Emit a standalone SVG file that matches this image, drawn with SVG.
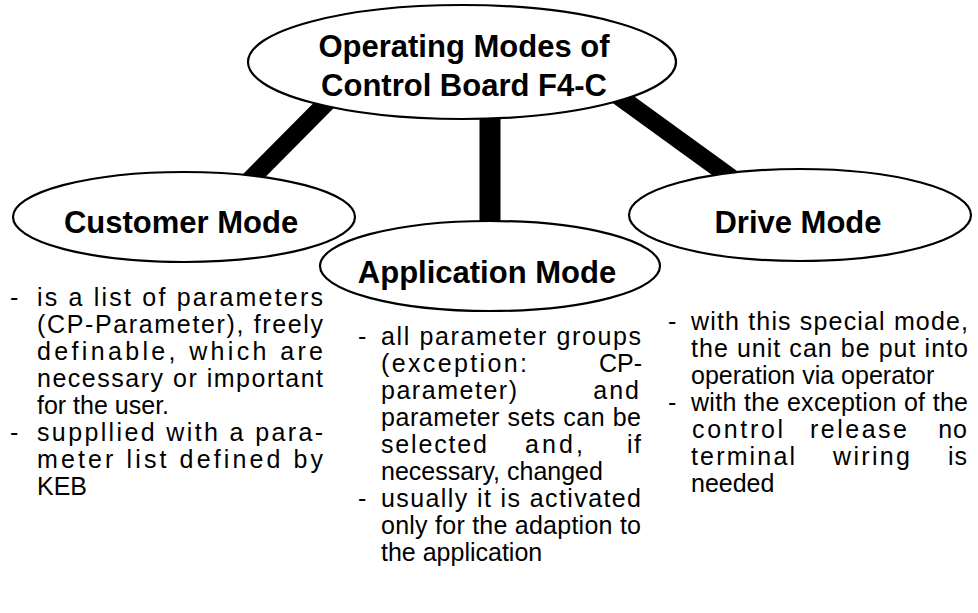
<svg xmlns="http://www.w3.org/2000/svg" width="978" height="613" viewBox="0 0 978 613">
<style>
.node{fill:#fff;stroke:#000;stroke-width:2.2}
.conn{stroke:#000;stroke-linecap:butt;fill:none}
.h{font-family:"Liberation Sans",Arial,sans-serif;font-weight:bold;font-size:31px;fill:#000;text-anchor:middle}
.b{font-family:"Liberation Sans",Arial,sans-serif;font-size:25px;fill:#000}
.e{text-anchor:end}
</style>
<rect width="978" height="613" fill="#fff"/>
<g id="connectors">
<line class="conn" x1="342" y1="87" x2="234" y2="196" stroke-width="18"/>
<line class="conn" x1="490" y1="100" x2="490" y2="240" stroke-width="21"/>
<line class="conn" x1="599" y1="82" x2="759" y2="198" stroke-width="18"/>
</g>
<g id="root">
<ellipse class="node" cx="462" cy="62" rx="214" ry="57"/>
<text class="h" x="464" y="57">Operating Modes of</text>
<text class="h" x="464" y="96">Control Board F4-C</text>
</g>
<g id="customer">
<ellipse class="node" cx="184" cy="217" rx="171" ry="45"/>
<text class="h" x="181" y="233">Customer Mode</text>
</g>
<g id="drive">
<ellipse class="node" cx="800" cy="215" rx="171" ry="46"/>
<text class="h" x="798" y="233">Drive Mode</text>
</g>
<g id="application">
<ellipse class="node" cx="490" cy="266" rx="170" ry="45"/>
<text class="h" x="487" y="283">Application Mode</text>
</g>
<g id="customer-text" class="b">
<text x="10" y="306">-</text>
<text x="37" y="306" textLength="286" lengthAdjust="spacing">is a list of parameters</text>
<text x="37" y="333" textLength="286" lengthAdjust="spacing">(CP-Parameter), freely</text>
<text x="37" y="360" textLength="286" lengthAdjust="spacing">definable, which are</text>
<text x="37" y="387" textLength="286" lengthAdjust="spacing">necessary or important</text>
<text x="37" y="414">for the user.</text>
<text x="10" y="441">-</text>
<text x="37" y="441" textLength="286" lengthAdjust="spacing">suppllied with a para-</text>
<text x="37" y="468" textLength="286" lengthAdjust="spacing">meter list defined by</text>
<text x="37" y="495">KEB</text>
</g>
<g id="application-text" class="b">
<text x="358" y="345">-</text>
<text x="381" y="345" textLength="260" lengthAdjust="spacing">all parameter groups</text>
<text x="381" y="372" textLength="146" lengthAdjust="spacing">(exception:</text>
<text class="e" x="642" y="372">CP-</text>
<text x="381" y="399" textLength="136" lengthAdjust="spacing">parameter)</text>
<text class="e" x="641" y="399" letter-spacing="2">and</text>
<text x="381" y="426" textLength="260" lengthAdjust="spacing">parameter sets can be</text>
<text x="381" y="453" textLength="106" lengthAdjust="spacing">selected</text>
<text x="525" y="453" textLength="58" lengthAdjust="spacing">and,</text>
<text x="627" y="453" textLength="14" lengthAdjust="spacing">if</text>
<text x="381" y="480">necessary, changed</text>
<text x="358" y="507">-</text>
<text x="381" y="507" textLength="260" lengthAdjust="spacing">usually it is activated</text>
<text x="381" y="534" textLength="260" lengthAdjust="spacing">only for the adaption to</text>
<text x="381" y="561">the application</text>
</g>
<g id="drive-text" class="b">
<text x="668" y="330">-</text>
<text x="691" y="330" textLength="277" lengthAdjust="spacing">with this special mode,</text>
<text x="691" y="357" textLength="277" lengthAdjust="spacing">the unit can be put into</text>
<text x="691" y="384">operation via operator</text>
<text x="668" y="411">-</text>
<text x="691" y="411" textLength="277" lengthAdjust="spacing">with the exception of the</text>
<text x="692" y="438" textLength="91" lengthAdjust="spacing">control</text>
<text x="810" y="438" textLength="97" lengthAdjust="spacing">release</text>
<text class="e" x="968" y="438" letter-spacing="1">no</text>
<text x="691" y="465" textLength="104" lengthAdjust="spacing">terminal</text>
<text x="833" y="465" textLength="77" lengthAdjust="spacing">wiring</text>
<text class="e" x="968" y="465" letter-spacing="1">is</text>
<text x="691" y="492">needed</text>
</g>
</svg>
